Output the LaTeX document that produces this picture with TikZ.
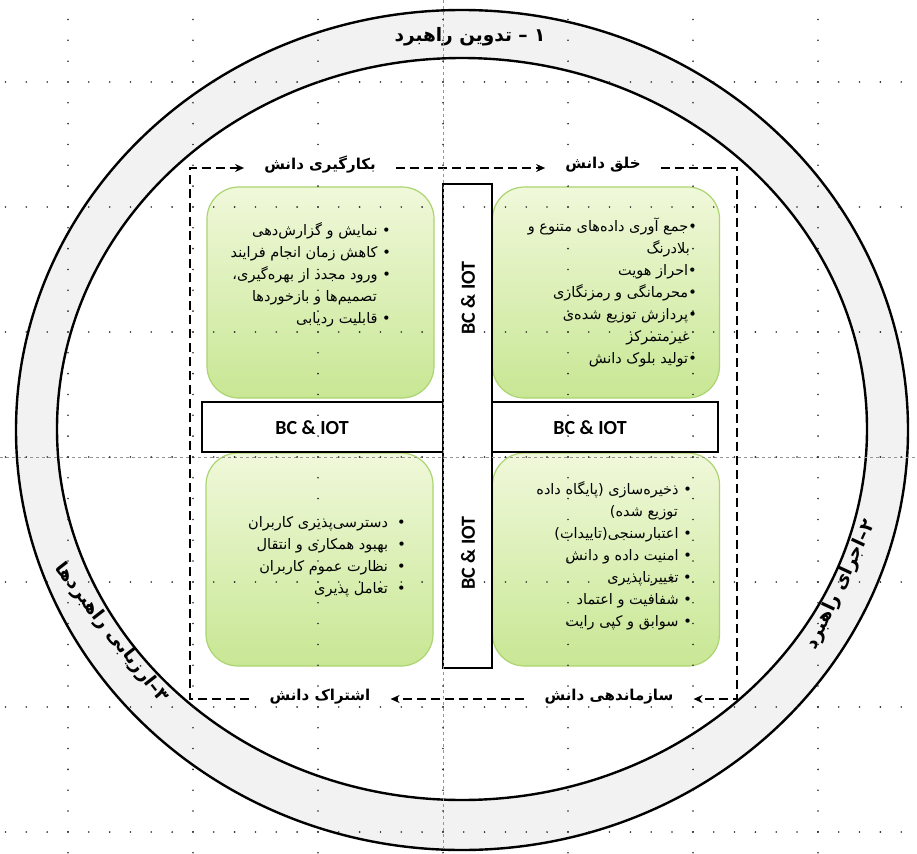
\documentclass[tikz,border=0pt]{standalone}
\usepackage{fontspec}
\setmainfont{DejaVu Sans}
\newfontfamily\farsi[Script=Arabic]{DejaVu Sans}
\newfontfamily\latinsans{Carlito}
\TeXXeTstate=1
\newcommand{\fatext}[1]{\beginR #1\endR}
\definecolor{ringgray}{RGB}{242, 242, 242}
\definecolor{leaftop}{RGB}{240, 248, 218}
\definecolor{leafbottom}{RGB}{200, 231, 148}
\definecolor{leafedge}{RGB}{172, 212, 112}
\definecolor{guidegray}{RGB}{150, 150, 150}
\definecolor{gridgray}{RGB}{40, 40, 40}
\usetikzlibrary{arrows.meta}

\begin{document}
\begin{tikzpicture}[x=1pt, y=-1pt, >={Stealth[length=9pt,width=8pt]},
    greenbox/.style={draw=leafedge, line width=1.2pt, rounded corners=32pt,
        top color=leaftop, bottom color=leafbottom, minimum width=227pt},
    bulletlist/.style={font=\farsi\fontsize{14.5}{22}\selectfont, align=right, inner sep=0pt, anchor=east},
    barbox/.style={draw=black, fill=white, line width=2.6pt},
    barlabel/.style={font=\latinsans\bfseries\fontsize{20}{22}\selectfont},
    cyclelabel/.style={font=\farsi\bfseries\fontsize{15}{18}\selectfont, inner xsep=20pt},
    flow/.style={line width=2.6pt, dash pattern=on 9pt off 5pt, line join=miter},
    ringlabel/.style={font=\farsi\bfseries\fontsize{18.5}{22}\selectfont}]
    \fill[white] (0,0) rectangle (917,853);
    \useasboundingbox (0,0) rectangle (917,853);

    % Strategy ring
    \fill[ringgray, even odd rule] (462,430) ellipse [x radius=446, y radius=420]
        (462,429) ellipse [x radius=405, y radius=371];
    \draw[line width=2.4pt] (462,430) ellipse [x radius=446, y radius=420];
    \draw[line width=2.4pt] (462,429) ellipse [x radius=405, y radius=371];
    \node[ringlabel] (plan) at (470,37) {\fatext{۱ – تدوین راهبرد}};
    \node[ringlabel, rotate=65] (run) at (841,585) {\fatext{۲–اجرای راهبرد}};
    \node[ringlabel, rotate=-52] (eval) at (111,633) {\fatext{۳–ارزیابی راهبردها}};

    % Knowledge cycle
    \coordinate (tl) at (190,168);
    \coordinate (tr) at (737,168);
    \coordinate (br) at (737,699);
    \coordinate (bl) at (190,699);
    \node[cyclelabel] (use) at (320,165) {\fatext{بکارگیری دانش}};
    \node[cyclelabel] (create) at (603,165) {\fatext{خلق دانش}};
    \node[cyclelabel] (organize) at (609,697) {\fatext{سازماندهی دانش}};
    \node[cyclelabel] (share) at (320,697) {\fatext{اشتراک دانش}};
    \draw[flow, ->] (share.west |- bl) -- (bl) -- (tl) -- (use.west |- tl);
    \draw[flow, ->] (use.east |- tl) -- (create.west |- tl);
    \draw[flow, ->] (create.east |- tr) -- (tr) -- (br) -- (organize.east |- br);
    \draw[flow, ->] (organize.west |- bl) -- (share.east |- bl);

    % Green boxes
    \node[greenbox, minimum height=211pt] (useBox) at (320.5,292.5) {};
    \node[greenbox, minimum height=211pt] (createBox) at (606,292.5) {};
    \node[greenbox, minimum height=213pt] (shareBox) at (319.5,559.5) {};
    \node[greenbox, minimum height=213pt] (organizeBox) at (606,559.5) {};

    \node[bulletlist] (useList) at (391,275) {%
        \fatext{•\ نمایش و گزارش‌دهی}\\
        \fatext{•\ کاهش زمان انجام فرایند}\\
        \fatext{•\ ورود مجدد از بهره‌گیری،}\\
        \fatext{\hspace*{14pt}تصمیم‌ها و بازخوردها}\\
        \fatext{•\ قابلیت ردیابی}};
    \node[bulletlist] (createList) at (697,292) {%
        \fatext{•جمع آوری داده‌های متنوع و}\\
        \fatext{\hspace*{7pt}بلادرنگ}\\
        \fatext{•احراز هویت}\\
        \fatext{•محرمانگی و رمزنگاری}\\
        \fatext{•پردازش توزیع شده‌ی}\\
        \fatext{\hspace*{7pt}غیرمتمرکز}\\
        \fatext{•تولید بلوک دانش}};
    \node[bulletlist] (shareList) at (406,557) {%
        \fatext{•\ \ دسترسی‌پذیری کاربران}\\
        \fatext{•\ \ بهبود همکاری و انتقال}\\
        \fatext{•\ \ نظارت عموم کاربران}\\
        \fatext{•\ \ تعامل پذیری}};
    \node[bulletlist] (organizeList) at (692,556) {%
        \fatext{•\ ذخیره‌سازی (پایگاه داده}\\
        \fatext{\hspace*{14pt}توزیع شده)}\\
        \fatext{•\ اعتبارسنجی(تاییدات)}\\
        \fatext{•\ امنیت داده و دانش}\\
        \fatext{•\ تغییرناپذیری}\\
        \fatext{•\ شفافیت و اعتماد}\\
        \fatext{•\ سوابق و کپی رایت}};

    % BC & IOT bars
    \node[barbox, minimum width=516pt, minimum height=50pt] (hbar) at (460,427) {};
    \node[barbox, minimum width=49pt, minimum height=484pt] (vbar) at (467.5,426) {};
    \node[barlabel] (hbarL) at (312,428) {BC \& IOT};
    \node[barlabel] (hbarR) at (590,428) {BC \& IOT};
    \node[barlabel, rotate=90] (vbarT) at (468,298) {BC \& IOT};
    \node[barlabel, rotate=90] (vbarB) at (468,553) {BC \& IOT};

    % Page grid
    \draw[guidegray, dashed, line width=0.6pt] (443,0) -- (443,853);
    \draw[guidegray, dashed, line width=0.6pt] (0,457) -- (917,457);
    \foreach \gx in {68,193,...,818}
        \foreach \gy in {19.5,40.33,...,853}
            \fill[gridgray] (\gx,\gy) circle (0.9);
    \foreach \gy in {82,207,...,832}
        \foreach \gx in {5.5,26.33,...,917}
            \fill[gridgray] (\gx,\gy) circle (0.9);
\end{tikzpicture}
\end{document}
